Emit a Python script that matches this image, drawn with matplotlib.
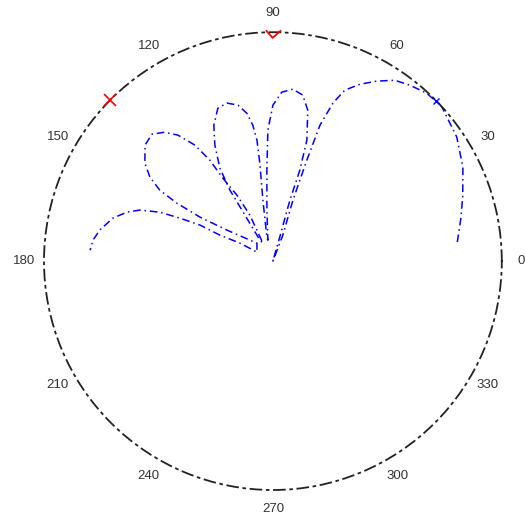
import numpy as np
import matplotlib
matplotlib.use("Agg")
import matplotlib.pyplot as plt
from matplotlib.path import Path

# ── Curve data (angle in degrees, radius on a 0..1 scale) ─────────────────────
# big lobe on the right, from its open end up over the top and into the origin
lobe_theta = [5.9, 12.4, 18.6, 26.3, 34.0, 42.5, 47.5, 52.1, 56.0, 60.0,
              63.8, 67.2, 69.2, 70.9, 71.4, 71.8, 69.0, 70.0]
lobe_r     = [0.81, 0.84, 0.875, 0.926, 0.969, 1.0, 0.995, 0.974, 0.953, 0.908,
              0.861, 0.81, 0.738, 0.628, 0.465, 0.28, 0.12, 0.0]

# petal pointing almost straight up
petal_a_theta = [74.0, 74.4, 73.5, 74.3, 77.0, 79.8, 83.4, 87.0, 90.0, 92.2,
                 93.8, 96.7, 103.4]
petal_a_r     = [0.095, 0.276, 0.414, 0.549, 0.677, 0.737, 0.756, 0.739, 0.681,
                 0.572, 0.398, 0.224, 0.094]

petal_b_theta = [104.0, 99.3, 97.6, 97.5, 98.4, 100.0, 102.6, 106.2, 109.8,
                 113.5, 116.6, 119.7, 121.2, 121.3, 121.8]
petal_b_r     = [0.108, 0.27, 0.432, 0.533, 0.6, 0.656, 0.698, 0.719, 0.71,
                 0.647, 0.566, 0.467, 0.362, 0.235, 0.108]

petal_c_theta = [119.0, 116.6, 118.6, 121.1, 122.0, 123.9, 127.0, 130.0, 133.6,
                 137.8, 142.6, 145.7, 147.9, 148.9, 148.9, 146.0, 131.6]
petal_c_r     = [0.09, 0.225, 0.328, 0.423, 0.52, 0.61, 0.689, 0.735, 0.766,
                 0.754, 0.704, 0.65, 0.583, 0.49, 0.372, 0.242, 0.105]

# open petal on the left, ends before 180
petal_d_theta = [150.6, 151.4, 153.9, 153.7, 155.2, 156.6, 159.0, 161.4, 165.0,
                 169.8, 173.3, 176.6]
petal_d_r     = [0.08, 0.164, 0.258, 0.355, 0.447, 0.538, 0.622, 0.672, 0.724,
                 0.768, 0.791, 0.8]

# markers sitting on the outer circle
mark_v_theta, mark_v_r = [90.0], [0.99]
mark_x_theta, mark_x_r = [135.4], [1.0]
mark_b_theta, mark_b_r = [44.5], [1.0]

angle_ticks = [0, 30, 60, 90, 120, 150, 180, 210, 240, 270, 300, 330]
angle_labels = [str(a) for a in angle_ticks]

# ── Figure ───────────────────────────────────────────────────────────────────
plt.rcParams["font.family"] = ["Liberation Sans", "DejaVu Sans"]
fig = plt.figure(figsize=(5.25, 5.22), dpi=100)
ax = fig.add_axes([0.0838, 0.0613, 0.872, 0.877], projection="polar")

theta_all = np.concatenate([lobe_theta, petal_a_theta, petal_b_theta,
                            petal_c_theta, petal_d_theta])
r_all = np.concatenate([lobe_r, petal_a_r, petal_b_r, petal_c_r, petal_d_r])
ax.plot(np.radians(theta_all), r_all, color="blue", linewidth=1.1,
        linestyle=(0, (5, 2.5, 1, 2.5)))

# "v" and cross markers
check = Path([(-0.9, 0.5), (-0.1, -0.4), (0.9, 0.5)],
             [Path.MOVETO, Path.LINETO, Path.LINETO])
ax.plot(np.radians(mark_v_theta), mark_v_r, linestyle="none", marker=check,
        markersize=11, markerfacecolor="none", markeredgecolor="red",
        markeredgewidth=1.3, clip_on=False, zorder=5)
ax.plot(np.radians(mark_x_theta), mark_x_r, linestyle="none", marker="x",
        markersize=8, color="red", markeredgewidth=1.2, clip_on=False, zorder=5)
ax.plot(np.radians(mark_b_theta), mark_b_r, linestyle="none", marker="x",
        markersize=5, color="blue", markeredgewidth=1.0, clip_on=False, zorder=5)

ax.set_ylim(0, 1)
ax.set_yticks([])
ax.set_thetagrids(angle_ticks, angle_labels, fontsize=9.5, color="#333333")
ax.tick_params(axis="x", pad=3.5)
ax.grid(False)
ax.spines["polar"].set_linestyle((0, (6, 3, 1, 3)))
ax.spines["polar"].set_linewidth(1.3)
ax.spines["polar"].set_color("#222222")

plt.savefig("out.png", dpi=100)
